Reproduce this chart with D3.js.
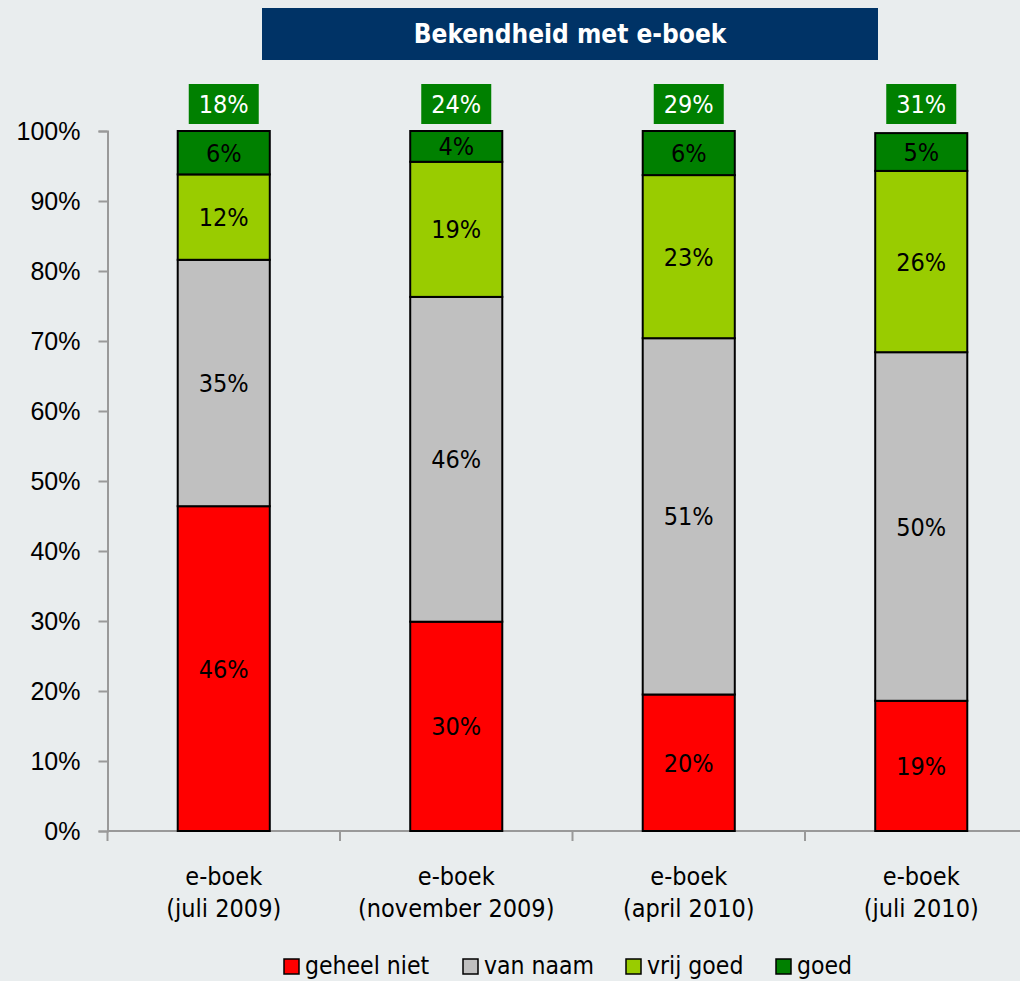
<!DOCTYPE html>
<html>
<head>
<meta charset="utf-8">
<script src="https://cdn.jsdelivr.net/npm/d3@7"></script>
<style>
  html, body { margin: 0; padding: 0; background: #e9edee; }
  svg { display: block; font-family: "DejaVu Sans Condensed", "DejaVu Sans", sans-serif; }
</style>
</head>
<body>
<svg id="chart" width="1020" height="981"></svg>
<script>
// Survey waves (two-line category labels)
const categories = ["e-boek\n(juli 2009)", "e-boek\n(november 2009)", "e-boek\n(april 2010)", "e-boek\n(juli 2010)"];
const seriesNames = ["geheel niet", "van naam", "vrij goed", "goed"];
const seriesColors = ["#ff0000", "#c0c0c0", "#99cc00", "#008000"];

// Share of respondents per wave (%)
const geheelNiet = [46.4, 29.9, 19.5, 18.6];
const vanNaam    = [35.2, 46.4, 50.9, 49.8];
const vrijGoed   = [12.2, 19.3, 23.3, 25.9];
const goed       = [6.2, 4.4, 6.3, 5.4];
// Combined "vrij goed + goed" shown above each bar
const bekendTotaal = [18, 24, 29, 31];

const yTicks = [0, 10, 20, 30, 40, 50, 60, 70, 80, 90, 100];

const rows = categories.map((c, i) => ({
  cat: c,
  "geheel niet": geheelNiet[i],
  "van naam": vanNaam[i],
  "vrij goed": vrijGoed[i],
  "goed": goed[i]
}));

const FS = 25;
const svg = d3.select("#chart");
const plotLeft = 107.5, plotTop = 131, plotBottom = 831;
const bandW = 232.5;

const x = d3.scaleBand().domain(categories).range([plotLeft, plotLeft + bandW * 4]).paddingInner(0.604).paddingOuter(0.302);
const y = d3.scaleLinear().domain([0, 100]).range([plotBottom, plotTop]);

const stacked = d3.stack().keys(seriesNames)(rows);

// Title banner
svg.append("rect").attr("x", 262).attr("y", 8).attr("width", 616).attr("height", 52).attr("fill", "#003366");
svg.append("text").attr("x", 570).attr("y", 43).attr("text-anchor", "middle")
  .attr("fill", "#ffffff").attr("font-weight", "bold").attr("font-size", 26)
  .text("Bekendheid met e-boek");

// Y axis
const yAxis = d3.axisLeft(y).tickValues(yTicks).tickFormat(d => d + "%").tickSize(9).tickPadding(18);
const gy = svg.append("g").attr("transform", `translate(${plotLeft},0)`).call(yAxis);
gy.select(".domain").attr("stroke", "#999999").attr("stroke-width", 2);
gy.selectAll(".tick line").attr("stroke", "#999999").attr("stroke-width", 2);
gy.selectAll(".tick text").attr("font-size", FS).attr("fill", "#000").attr("font-family", "inherit");

// X axis baseline with category separators
const sepPositions = d3.range(5).map(i => plotLeft + i * bandW);
svg.append("line").attr("x1", plotLeft).attr("x2", plotLeft + bandW * 4).attr("y1", plotBottom).attr("y2", plotBottom)
  .attr("stroke", "#999999").attr("stroke-width", 2);
svg.selectAll(".sep").data(sepPositions).enter().append("line")
  .attr("x1", d => d).attr("x2", d => d).attr("y1", plotBottom).attr("y2", plotBottom + 10)
  .attr("stroke", "#999999").attr("stroke-width", 2);

// Stacked bars
const layers = svg.selectAll(".layer").data(stacked).enter().append("g")
  .attr("fill", (d, i) => seriesColors[i]);
layers.selectAll("rect").data(d => d).enter().append("rect")
  .attr("x", d => x(d.data.cat))
  .attr("y", d => y(d[1]))
  .attr("width", x.bandwidth())
  .attr("height", d => y(d[0]) - y(d[1]))
  .attr("stroke", "#000").attr("stroke-width", 2);

// Segment value labels
layers.selectAll("text").data(d => d).enter().append("text")
  .attr("x", d => x(d.data.cat) + x.bandwidth() / 2)
  .attr("y", d => (y(d[0]) + y(d[1])) / 2)
  .attr("dy", "0.36em")
  .attr("text-anchor", "middle").attr("fill", "#000").attr("font-size", FS)
  .text(d => Math.round(d[1] - d[0]) + "%");

// Totals above bars
const totals = svg.selectAll(".total").data(categories).enter().append("g");
totals.append("rect")
  .attr("x", c => x(c) + x.bandwidth() / 2 - 35).attr("y", 84).attr("width", 70).attr("height", 40)
  .attr("fill", "#008000");
totals.append("text")
  .attr("x", c => x(c) + x.bandwidth() / 2).attr("y", 104).attr("dy", "0.36em")
  .attr("text-anchor", "middle").attr("fill", "#fff").attr("font-size", FS)
  .text((c, i) => bekendTotaal[i] + "%");

// Category labels
svg.selectAll(".cat").data(categories).enter().append("text")
  .attr("x", c => x(c) + x.bandwidth() / 2).attr("y", 885)
  .attr("text-anchor", "middle").attr("font-size", FS).attr("fill", "#000")
  .each(function (c) {
    const lines = c.split("\n");
    d3.select(this).selectAll("tspan").data(lines).enter().append("tspan")
      .attr("x", x(c) + x.bandwidth() / 2).attr("dy", (d, i) => i === 0 ? 0 : 32).text(d => d);
  });

// Legend
const legendX = [284, 463, 626, 776];
const legend = svg.selectAll(".leg").data(seriesNames).enter().append("g")
  .attr("transform", (d, i) => `translate(${legendX[i]},959)`);
legend.append("rect").attr("width", 15).attr("height", 15)
  .attr("fill", (d, i) => seriesColors[i]).attr("stroke", "#000").attr("stroke-width", 1.5);
legend.append("text").attr("x", 21).attr("y", 15).attr("font-size", 24.5).attr("fill", "#000").text(d => d);
</script>
</body>
</html>
